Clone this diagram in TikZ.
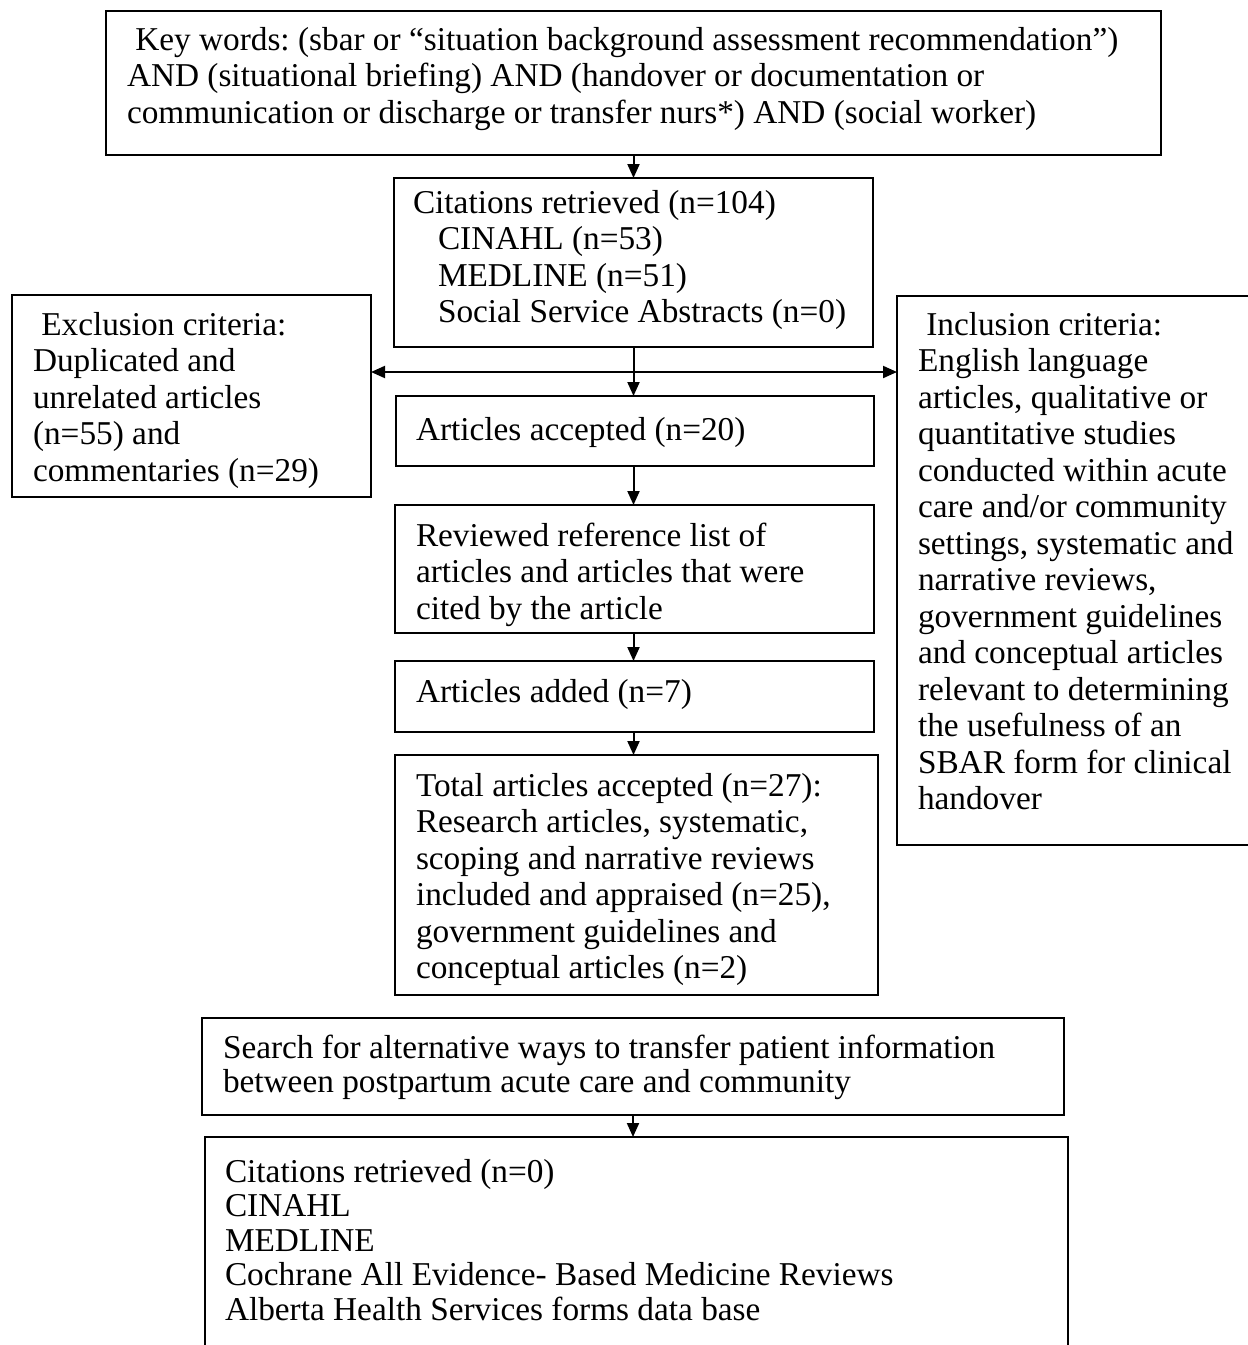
\documentclass[tikz,border=0pt]{standalone}
\usepackage{fontspec}
\setmainfont{Liberation Serif}
\usetikzlibrary{arrows.meta}
\begin{document}
\begin{tikzpicture}[x=1pt,y=-1pt,
  frame/.style={draw, line width=2pt, inner sep=0pt, outer sep=0pt, anchor=north west},
  txt/.style={anchor=base west, inner sep=0pt, outer sep=0pt, align=flush left,
    text width=1100pt, font=\fontsize{33.3}{36.5}\selectfont\frenchspacing},
  tight/.style={font=\fontsize{33.3}{34.5}\selectfont\frenchspacing},
  link/.style={line width=2pt, -{Triangle[length=14pt,width=12pt]}},
  plain/.style={line width=2pt}
]
\useasboundingbox (0,0) rectangle (1248,1345);
\fill[white] (0,0) rectangle (1248,1345);

% search keywords
\node[frame, minimum width=1055pt, minimum height=144pt] (kw) at (106,11) {};
\node[txt] (kwt) at (127,50) {\hspace*{8.3pt}Key words: (sbar or “situation background assessment recommendation”)\\
AND (situational briefing) AND (handover or documentation or\\
communication or discharge or transfer nurs*) AND (social worker)};

% database results
\node[frame, minimum width=479pt, minimum height=169pt] (cit) at (394,178) {};
\node[txt] (citt) at (413,213) {Citations retrieved (n=104)\\
\hspace*{25pt}CINAHL (n=53)\\
\hspace*{25pt}MEDLINE (n=51)\\
\hspace*{25pt}Social Service Abstracts (n=0)};

% exclusion criteria
\node[frame, minimum width=359pt, minimum height=202pt] (exc) at (12,295) {};
\node[txt] (exct) at (33,335) {\hspace*{8.3pt}Exclusion criteria:\\
Duplicated and\\
unrelated articles\\
(n=55) and\\
commentaries (n=29)};

% inclusion criteria
\node[frame, minimum width=362pt, minimum height=549pt] (inc) at (897,296) {};
\node[txt] (inct) at (918,335) {\hspace*{8.3pt}Inclusion criteria:\\
English language\\
articles, qualitative or\\
quantitative studies\\
conducted within acute\\
care and/or community\\
settings, systematic and\\
narrative reviews,\\
government guidelines\\
and conceptual articles\\
relevant to determining\\
the usefulness of an\\
SBAR form for clinical\\
handover};

% screening chain
\node[frame, minimum width=478pt, minimum height=70pt] (acc) at (396,396) {};
\node[txt] (acct) at (416,440) {Articles accepted (n=20)};

\node[frame, minimum width=479pt, minimum height=128pt] (rev) at (395,505) {};
\node[txt] (revt) at (416,546) {Reviewed reference list of\\
articles and articles that were\\
cited by the article};

\node[frame, minimum width=479pt, minimum height=71pt] (add) at (395,661) {};
\node[txt] (addt) at (416,702) {Articles added (n=7)};

\node[frame, minimum width=483pt, minimum height=240pt] (tot) at (395,755) {};
\node[txt] (tott) at (416,796) {Total articles accepted (n=27):\\
Research articles, systematic,\\
scoping and narrative reviews\\
included and appraised (n=25),\\
government guidelines and\\
conceptual articles (n=2)};

% second search
\node[frame, minimum width=862pt, minimum height=97pt] (srch) at (202,1018) {};
\node[txt, tight] (srcht) at (223,1058) {Search for alternative ways to transfer patient information\\
between postpartum acute care and community};

\node[frame, minimum width=863pt, minimum height=240pt] (res) at (205,1137) {};
\node[txt, tight] (rest) at (225,1182) {Citations retrieved (n=0)\\
CINAHL\\
MEDLINE\\
Cochrane All Evidence- Based Medicine Reviews\\
Alberta Health Services forms data base};

% connectors
\draw[link] (kw.south) -- (kw.south |- cit.north);
\path (cit.south) ++(0,25) coordinate (split);
\draw[plain] (cit.south) -- (split);
\draw[link] (split) -- (split |- acc.north);
\draw[link] (split) -- (split -| exc.east);
\draw[link] (split) -- (split -| inc.west);
\draw[link] (split |- acc.south) -- (split |- rev.north);
\draw[link] (split |- rev.south) -- (split |- add.north);
\draw[link] (split |- add.south) -- (split |- tot.north);
\draw[link] (srch.south) -- (srch.south |- res.north);
\end{tikzpicture}
\end{document}
